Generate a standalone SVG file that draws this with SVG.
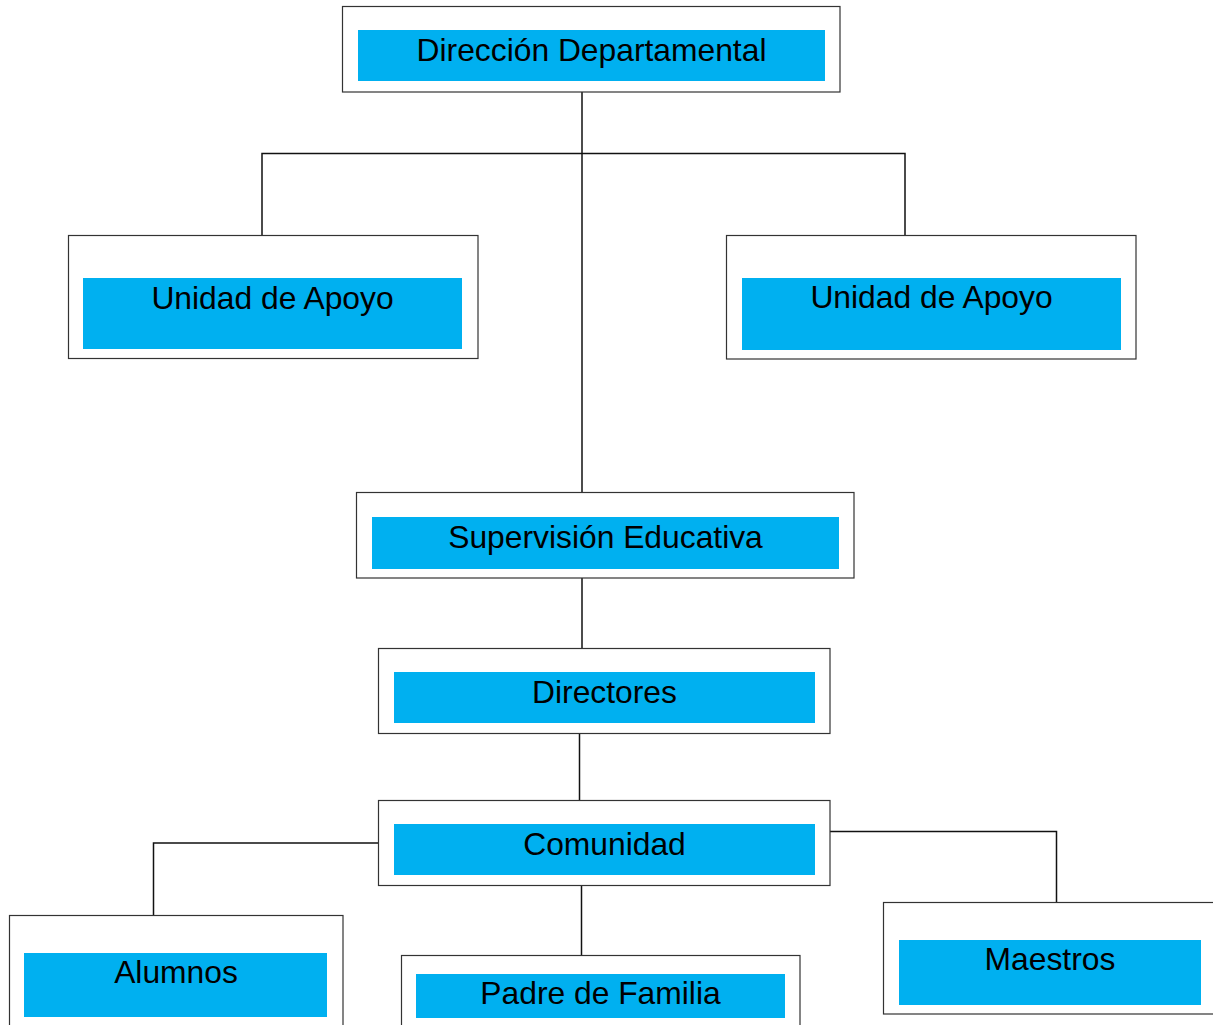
<svg xmlns="http://www.w3.org/2000/svg" width="1213" height="1025" viewBox="0 0 1213 1025">
<style>
.box{fill:#fff;stroke:#333;stroke-width:1.2}
.in{fill:#00B0F0}
.t{font-family:"Liberation Sans",Arial,sans-serif;font-size:31.8px;fill:#000;text-anchor:middle}
.c{fill:none;stroke:#111;stroke-width:1.5}
</style>
<rect width="1213" height="1025" fill="#fff"/>
<g id="connectors">
<path class="c" d="M582,92 V492"/>
<path class="c" d="M262,235 V153.5 H905 V235"/>
<path class="c" d="M582,578 V648"/>
<path class="c" d="M579.5,729 V800"/>
<path class="c" d="M378,843 H153.5 V915"/>
<path class="c" d="M830,831.5 H1056.5 V902"/>
<path class="c" d="M581.5,885 V955"/>
</g>
<g id="n1"><rect class="box" x="342.5" y="6.5" width="497.5" height="85.5"/><rect class="in" x="358" y="30" width="467" height="51"/><text class="t" x="591.5" y="60.5">Dirección Departamental</text></g>
<g id="n2"><rect class="box" x="68.5" y="235.5" width="409.5" height="123"/><rect class="in" x="83" y="278" width="379" height="71"/><text class="t" x="272.5" y="308.5">Unidad de Apoyo</text></g>
<g id="n3"><rect class="box" x="726.5" y="235.5" width="409.5" height="123.5"/><rect class="in" x="742" y="278" width="379" height="72"/><text class="t" x="931.5" y="307.5">Unidad de Apoyo</text></g>
<g id="n4"><rect class="box" x="356.5" y="492.5" width="497.5" height="85.5"/><rect class="in" x="372" y="517" width="467" height="52"/><text class="t" x="605.5" y="547.5">Supervisión Educativa</text></g>
<g id="n5"><rect class="box" x="378.5" y="648.5" width="451.5" height="85"/><rect class="in" x="394" y="672" width="421" height="51"/><text class="t" x="604.5" y="702.5">Directores</text></g>
<g id="n6"><rect class="box" x="378.5" y="800.5" width="451.5" height="85"/><rect class="in" x="394" y="824" width="421" height="51"/><text class="t" x="604.5" y="854.5">Comunidad</text></g>
<g id="n7"><rect class="box" x="9.5" y="915.5" width="333.5" height="120"/><rect class="in" x="24" y="953" width="303" height="64"/><text class="t" x="176" y="982.5">Alumnos</text></g>
<g id="n8"><rect class="box" x="401.5" y="955.5" width="398.5" height="80"/><rect class="in" x="416" y="974" width="369" height="44"/><text class="t" x="600.5" y="1003.5">Padre de Familia</text></g>
<g id="n9"><rect class="box" x="883.5" y="902.5" width="340" height="111.5"/><rect class="in" x="899" y="940" width="302" height="65"/><text class="t" x="1050" y="969.5">Maestros</text></g>
</svg>
